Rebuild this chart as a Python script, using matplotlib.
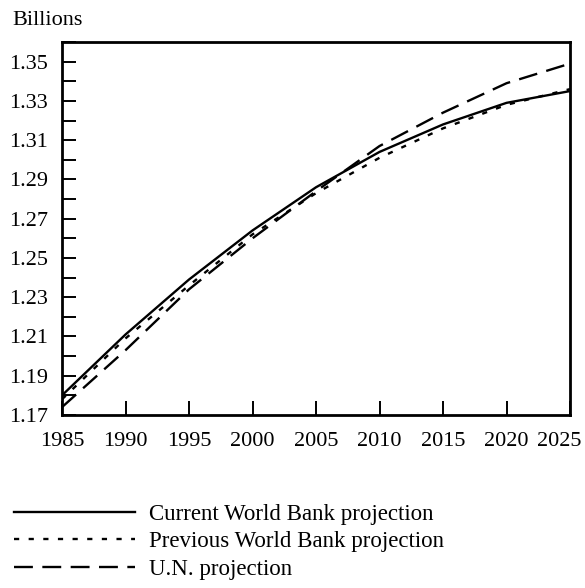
import matplotlib
matplotlib.use("Agg")
import matplotlib.pyplot as plt
import matplotlib.transforms as mtransforms
import numpy as np

plt.rcParams["font.family"] = ["Liberation Serif", "DejaVu Serif"]

years = [1985, 1990, 1995, 2000, 2005, 2010, 2015, 2020, 2025]
current_wb = [1.180, 1.211, 1.239, 1.264, 1.286, 1.304, 1.318, 1.329, 1.335]
previous_wb = [1.178, 1.209, 1.236, 1.262, 1.283, 1.301, 1.316, 1.328, 1.336]
un_proj = [1.174, 1.203, 1.234, 1.260, 1.284, 1.307, 1.324, 1.339, 1.349]

labels = ["Current World Bank projection",
          "Previous World Bank projection",
          "U.N. projection"]
y_ticks = [1.17, 1.19, 1.21, 1.23, 1.25, 1.27, 1.29, 1.31, 1.33, 1.35]

fig = plt.figure(figsize=(5.85, 5.88), dpi=100)
ax = fig.add_axes([62 / 585, 1 - 415 / 588, 508 / 585, 373 / 588])

lw = 1.7
ax.plot(years, current_wb, color="black", lw=lw, label=labels[0])
ax.plot(years, previous_wb, color="black", lw=lw, dashes=(2.2, 4.0), label=labels[1])
ax.plot(years, un_proj, color="black", lw=lw, dashes=(8, 4.0), label=labels[2])

ax.set_xlim(1985, 2025)
ax.set_ylim(1.17, 1.36)
ax.set_xticks(years)
ax.set_yticks(y_ticks)
ax.set_yticks(np.arange(1.18, 1.36, 0.02), minor=True)
ax.set_yticklabels([f"{v:.2f}" for v in y_ticks])

for s in ax.spines.values():
    s.set_linewidth(2)
ax.tick_params(axis="both", which="both", direction="in", length=10, width=1.4,
               labelsize=16, top=False, right=False)
ax.tick_params(axis="y", pad=10)
ax.tick_params(axis="x", pad=12)
# nudge the last year label left so it stays inside the picture
last = ax.get_xticklabels()[-1]
last.set_transform(last.get_transform() +
                   mtransforms.ScaledTranslation(-11 / 100, 0, fig.dpi_scale_trans))

fig.text(12 / 585, 1 - 25 / 588, "Billions", fontsize=16, ha="left", va="baseline")

fig.legend(loc="upper left", bbox_to_anchor=(14 / 585, 1 - 504 / 588),
           frameon=False, fontsize=16.5, handlelength=5.3, handletextpad=0.6,
           labelspacing=0.28, borderpad=0, borderaxespad=0)

fig.savefig("out.png", dpi=100)
